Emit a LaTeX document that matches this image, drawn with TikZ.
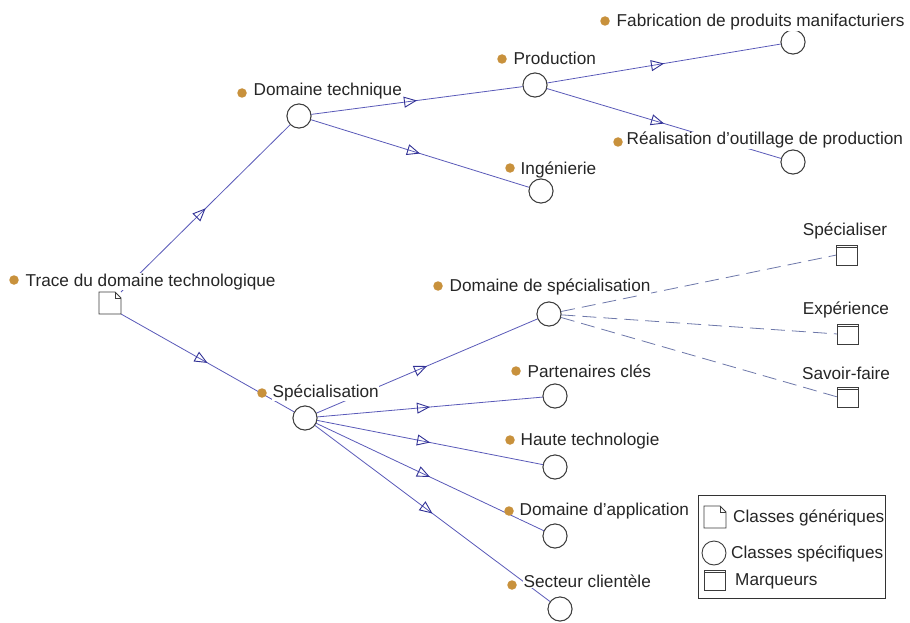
\documentclass[tikz,border=0pt]{standalone}
\usepackage{fontspec}
\setmainfont{Liberation Sans}[Ligatures=ResetAll]
\usetikzlibrary{decorations.markings,arrows.meta}
\definecolor{linecol}{RGB}{90,90,185}
\definecolor{arrcol}{RGB}{50,50,150}
\definecolor{dashcol}{RGB}{110,120,170}
\definecolor{dotcol}{RGB}{200,145,60}
\definecolor{shapecol}{RGB}{60,60,60}
\tikzset{
  x=1pt,y=-1pt,
  every node/.style={font=\fontsize{17.2}{20}\selectfont},
  cls/.style={circle,draw=shapecol,fill=white,minimum size=24pt,inner sep=0pt,line width=0.9pt},
  lbl/.style={anchor=base west,fill=white,inner sep=0.5pt,text=black!85},
  mlbl/.style={anchor=base,fill=white,inner sep=0.5pt,text=black!85},
  dotmk/.style={circle,fill=dotcol,minimum size=9.5pt,inner sep=0pt},
  rel/.style={draw=linecol,line width=0.8pt,postaction={decorate},
    decoration={markings,mark=at position 0.5 with {\arrow[arrcol,line width=0.9pt]{Triangle[open,length=13pt,width=11pt]}}}},
  dashrel/.style={draw=dashcol,line width=0.8pt,dash pattern=on 14pt off 7pt},
  docshape/.pic={\draw[shapecol,fill=white,line width=0.9pt] (-11,-11) -- (5,-11) -- (11,-5) -- (11,11) -- (-11,11) -- cycle;
                 \draw[shapecol,line width=0.7pt] (5,-11) -- (5,-5) -- (11,-5);},
  markshape/.pic={\draw[shapecol,fill=white,line width=0.9pt] (-10.5,-10) rectangle (10.5,10);
                  \draw[shapecol,line width=0.7pt] (-10.5,-7.5) -- (10.5,-7.5);}
}
\begin{document}
\begin{tikzpicture}
\useasboundingbox (0,0) rectangle (910,623);
\fill[white] (0,0) rectangle (910,623);
% connector anchors
\coordinate (trace) at (110,303);
\coordinate (tracetr) at (121,292);
\coordinate (tracebr) at (121,314);
\node[cls] (dt) at (299,116) {};
\node[cls] (prod) at (535,85) {};
\node[cls] (fab) at (793,42) {};
\node[cls] (real) at (793,162) {};
\node[cls] (ing) at (541,191) {};
\node[cls] (spe) at (305,418) {};
\node[cls] (dds) at (549,314) {};
\node[cls] (part) at (555,396) {};
\node[cls] (haute) at (555,467) {};
\node[cls] (dapp) at (555,536) {};
\node[cls] (sect) at (560,609) {};
\coordinate (m1w) at (836.5,255);
\coordinate (m2w) at (837.5,334);
\coordinate (m3w) at (837.5,397);
% connectors
\path[rel] (tracetr) -- (dt);
\path[rel] (tracebr) -- (spe);
\path[rel] (dt) -- (prod);
\path[rel] (dt) -- (ing);
\path[rel] (prod) -- (fab);
\path[rel] (prod) -- (real);
\path[rel] (spe) -- (dds);
\path[rel] (spe) -- (part);
\path[rel] (spe) -- (haute);
\path[rel] (spe) -- (dapp);
\path[rel] (spe) -- (sect);
\path[dashrel] (dds) -- (m1w);
\path[dashrel] (dds) -- (m2w);
\path[dashrel] (dds) -- (m3w);
% redraw circles above lines
\foreach \n in {dt,prod,fab,real,ing,spe,dds,part,haute,dapp,sect}{\node[cls] at (\n) {};}
\pic at (trace) {docshape};
\pic at (847,255) {markshape};
\pic at (848,334) {markshape};
\pic at (848,397) {markshape};
% labels
\node[lbl] (ltrace) at (25,286) {Trace du domaine technologique};
\node[dotmk] (dtrace) at (14,280) {};
\node[lbl] (ldt) at (253,96) {Domaine technique};
\node[dotmk] (ddt) at (242,93) {};
\node[lbl] (lprod) at (513,65) {Production};
\node[dotmk] (dprod) at (502,59) {};
\node[lbl] (lfab) at (616,27) {Fabrication de produits manifacturiers};
\node[dotmk] (dfab) at (605,21) {};
\node[lbl] (lreal) at (626,145) {Réalisation d'outillage de production};
\node[dotmk] (dreal) at (618,142) {};
\node[lbl] (ling) at (520,174) {Ingénierie};
\node[dotmk] (ding) at (510,168) {};
\node[lbl] (lspe) at (272,397) {Spécialisation};
\node[dotmk] (dspe) at (262,393) {};
\node[lbl] (ldds) at (449,291) {Domaine de spécialisation};
\node[dotmk] (ddds) at (438,286) {};
\node[lbl] (lpart) at (527,377) {Partenaires clés};
\node[dotmk] (dpart) at (516,371) {};
\node[lbl] (lhaute) at (520,445) {Haute technologie};
\node[dotmk] (dhaute) at (510,440) {};
\node[lbl] (ldapp) at (519,515) {Domaine d'application};
\node[dotmk] (ddapp) at (509,511) {};
\node[lbl] (lsect) at (523,587) {Secteur clientèle};
\node[dotmk] (dsect) at (512,585) {};
\node[mlbl] (lm1) at (845,235) {Spécialiser};
\node[mlbl] (lm2) at (846,314) {Expérience};
\node[mlbl] (lm3) at (846,379) {Savoir-faire};
% legend
\node[draw=black!80,line width=0.9pt,minimum width=187pt,minimum height=103pt,inner sep=0pt] (legend) at (791.5,546.5) {};
\pic at (715,517) {docshape};
\node[cls] (legc) at (714,553) {};
\pic at (715,580) {markshape};
\node[anchor=base west,inner sep=0pt,text=black!85] (lg1) at (733,522) {Classes génériques};
\node[anchor=base west,inner sep=0pt,text=black!85] (lg2) at (731,558) {Classes spécifiques};
\node[anchor=base west,inner sep=0pt,text=black!85] (lg3) at (735,585) {Marqueurs};
\end{tikzpicture}
\end{document}
